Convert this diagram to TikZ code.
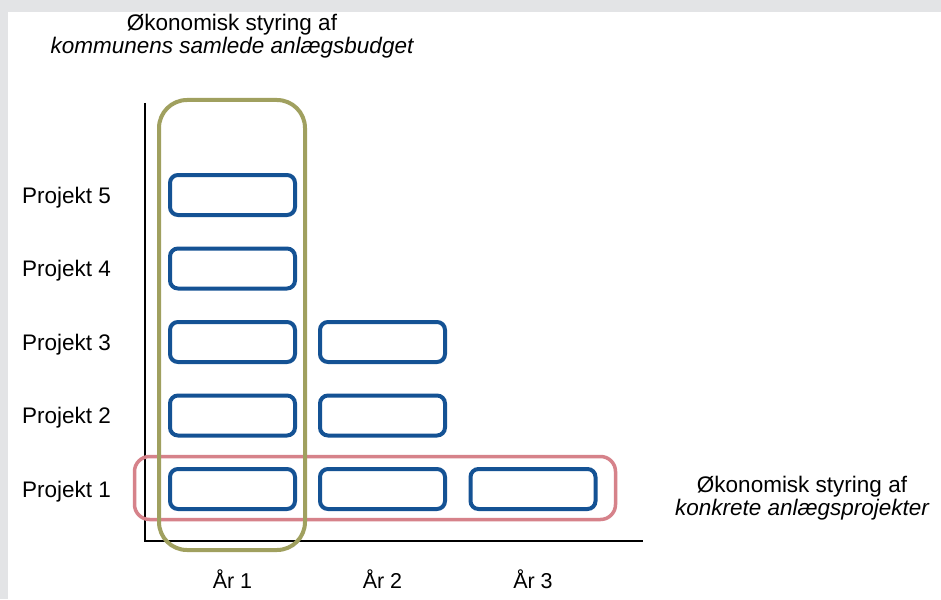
\documentclass[tikz,border=0pt]{standalone}
\usepackage{fontspec}
\setmainfont{Liberation Sans}
\definecolor{framegray}{RGB}{227,228,230}
\definecolor{boxblue}{RGB}{20,82,148}
\definecolor{budgetgreen}{RGB}{160,160,95}
\definecolor{projpink}{RGB}{214,130,138}
\tikzset{
  projbox/.style={draw=boxblue, line width=4pt, rounded corners=8pt, minimum width=125pt, minimum height=40pt, inner sep=0pt},
  greenframe/.style={draw=budgetgreen, line width=4pt, rounded corners=28pt, minimum width=146pt, minimum height=450pt, inner sep=0pt},
  pinkframe/.style={draw=projpink, line width=3.5pt, rounded corners=15pt, minimum width=481pt, minimum height=63pt, inner sep=0pt},
  axisline/.style={draw=black, line width=1.5pt},
  lbl/.style={font=\fontsize{22.5}{26}\selectfont, inner sep=0pt},
  yearlbl/.style={font=\fontsize{21.5}{24}\selectfont, inner sep=0pt, anchor=base},
}
\begin{document}
\begin{tikzpicture}[x=1pt,y=-1pt]
\useasboundingbox (0,0) rectangle (941,599);
\fill[framegray] (0,0) rectangle (941,599);
\fill[white] (8,12) rectangle (941,599);
% axes
\coordinate (ytop) at (145,103);
\coordinate (xend) at (643,541);
\draw[axisline] (ytop) |- (xend);
% frames
\node[pinkframe] (pink) at (375,488) {};
\node[greenframe] (green) at (232,325) {};
% project boxes
\node[projbox] (b51) at (232.5,195) {};
\node[projbox] (b41) at (232.5,268.5) {};
\node[projbox] (b31) at (232.5,342) {};
\node[projbox] (b32) at (382.5,342) {};
\node[projbox] (b21) at (232.5,415.5) {};
\node[projbox] (b22) at (382.5,415.5) {};
\node[projbox] (b11) at (232.5,489) {};
\node[projbox] (b12) at (382.5,489) {};
\node[projbox] (b13) at (533,489) {};
% row labels
\node[lbl, anchor=base west] (l5) at (22,203) {Projekt 5};
\node[lbl, anchor=base west] (l4) at (22,276.5) {Projekt 4};
\node[lbl, anchor=base west] (l3) at (22,350) {Projekt 3};
\node[lbl, anchor=base west] (l2) at (22,423.5) {Projekt 2};
\node[lbl, anchor=base west] (l1) at (22,497) {Projekt 1};
% year labels
\node[yearlbl] (y1) at (232.5,588) {År 1};
\node[yearlbl] (y2) at (382.5,588) {År 2};
\node[yearlbl] (y3) at (533,588) {År 3};
% titles
\node[lbl, anchor=base] (t1) at (232,31) {Økonomisk styring af};
\node[lbl, anchor=base] (t2) at (232,54) {\itshape kommunens samlede anlægsbudget};
\node[lbl, anchor=base] (r1) at (802,492) {Økonomisk styring af};
\node[lbl, anchor=base] (r2) at (802,515) {\itshape konkrete anlægsprojekter};
\end{tikzpicture}
\end{document}
